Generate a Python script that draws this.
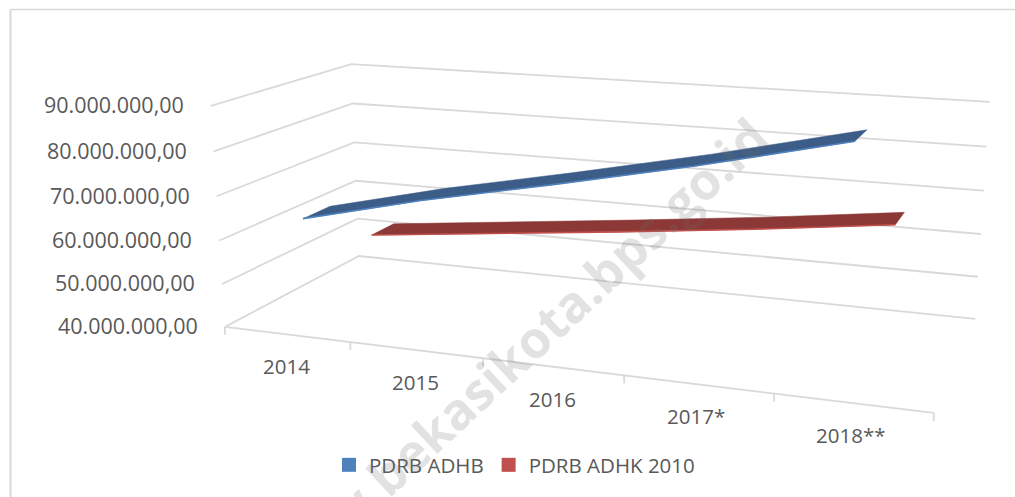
import numpy as np, plotly.graph_objects as go

# ---- data ----
categories = ["2014", "2015", "2016", "2017*", "2018**"]
value_ticks = [40000000, 50000000, 60000000, 70000000, 80000000, 90000000]
value_tick_labels = ["40.000.000,00", "50.000.000,00", "60.000.000,00",
                     "70.000.000,00", "80.000.000,00", "90.000.000,00"]
pdrb_adhb = [64100000, 71900000, 78800000, 86000000, 93900000]
pdrb_adhk = [52500000, 55650000, 58900000, 62300000, 66100000]

# ---- look ----
W, H = 1015, 497
GRID = "#D9D9D9"
TEXT = "#595959"
FONT = "Open Sans"
# perspective camera of the 3-D chart: (category, depth, value/1e7, 1) -> page pixels
CAMERA = np.array([[112.235452, 185.870293, -4.258608, 235.467142],
                   [5.459828, -29.074575, -43.691461, 492.214980],
                   [-0.027264, 0.155144, -0.007197, 1.0]])

def project(cat, depth, value):
    h = CAMERA @ np.array([cat, depth, value / 1e7, 1.0])
    return h[0] / h[2], h[1] / h[2]

def polyline(points):
    xy = [project(*p) for p in points]
    return [p[0] for p in xy], [p[1] for p in xy]

n = len(categories)
lo, hi = value_ticks[0], value_ticks[-1]

gx, gy = [], []
for v in value_ticks:
    x, y = polyline([(0, 0, v), (0, 1, v), (n, 1, v)])
    gx += x + [None]; gy += y + [None]
fx, fy = polyline([(0, 0, lo), (n, 0, lo)])
for i in range(n + 1):
    x, y = project(i, 0, lo)
    fx += [None, x, x]; fy += [None, y, y + 8]

fig = go.Figure()
fig.add_trace(go.Scatter(x=gx, y=gy, mode="lines", line=dict(color=GRID, width=1.8), showlegend=False, hoverinfo="skip"))
fig.add_trace(go.Scatter(x=fx, y=fy, mode="lines", line=dict(color=GRID, width=1.8), showlegend=False, hoverinfo="skip"))

def ribbon(values, front, back, dark, light):
    f = np.linspace(*front, n); b = np.linspace(*back, n)
    fr = polyline([(i + .5, f[i], values[i]) for i in range(n)])
    bk = polyline([(i + .5, b[i], values[i]) for i in range(n)])
    fig.add_trace(go.Scatter(x=fr[0] + bk[0][::-1] + fr[0][:1], y=fr[1] + bk[1][::-1] + fr[1][:1],
                             mode="lines", fill="toself", fillcolor=dark, line=dict(color=dark, width=0.5),
                             showlegend=False, hoverinfo="skip"))
    fig.add_trace(go.Scatter(x=fr[0], y=fr[1], mode="lines", line=dict(color=light, width=1.6),
                             showlegend=False, hoverinfo="skip"))

ribbon(pdrb_adhk, (0.65, 0.65), (0.835, 0.835), "#8C3836", "#C0504D")
ribbon(pdrb_adhb, (0.148, -0.155), (0.342, 0.029), "#3C5D87", "#4F81BD")

for name, color in [("PDRB ADHB", "#4F81BD"), ("PDRB ADHK 2010", "#C0504D")]:
    fig.add_trace(go.Scatter(x=[None], y=[None], mode="markers", name=name,
                             marker=dict(symbol="square", size=14, color=color)))

ann = []
for v, t in zip(value_ticks, value_tick_labels):
    x, y = project(0, 0, v)
    ann.append(dict(x=x, y=y, text=t, xanchor="right", yanchor="middle", xshift=-25, yshift=1, showarrow=False,
                    font=dict(family=FONT, size=21.5, color=TEXT)))
for i, t in enumerate(categories):
    x, y = project(i + .5, 0, lo)
    ann.append(dict(x=x, y=y, text=t, xanchor="center", yanchor="middle", yshift=-32,
                    xshift=0 if i < 3 else -2, showarrow=False,
                    font=dict(family=FONT, size=20.5, color=TEXT)))
ann.append(dict(x=513, y=356, text="www.bekasikota.bps.go.id", textangle=-43, showarrow=False,
                xanchor="center", yanchor="middle",
                font=dict(family=FONT, size=51, weight="bold", color="rgba(110,110,110,0.2)")))

fig.update_layout(
    width=W, height=H, margin=dict(l=0, r=0, t=0, b=0),
    paper_bgcolor="white", plot_bgcolor="white",
    xaxis=dict(visible=False, range=[0, W], fixedrange=True),
    yaxis=dict(visible=False, range=[H, 0], fixedrange=True),
    annotations=ann, hovermode=False,
    legend=dict(orientation="h", x=(342 - 13) / W, y=1 - 465 / H, xanchor="left", yanchor="middle",
                bgcolor="rgba(0,0,0,0)",
                font=dict(family=FONT, size=20.5, color=TEXT)),
    shapes=[dict(type="line", xref="paper", yref="paper", x0=10.5 / W, x1=10.5 / W, y0=0, y1=1 - 9.5 / H,
                 line=dict(color=GRID, width=2)),
            dict(type="line", xref="paper", yref="paper", x0=10.5 / W, x1=1, y0=1 - 9.5 / H, y1=1 - 9.5 / H,
                 line=dict(color=GRID, width=1.5))])
fig.write_html("out.html", post_script="document.body.style.margin='0';", config={"displayModeBar": False})
